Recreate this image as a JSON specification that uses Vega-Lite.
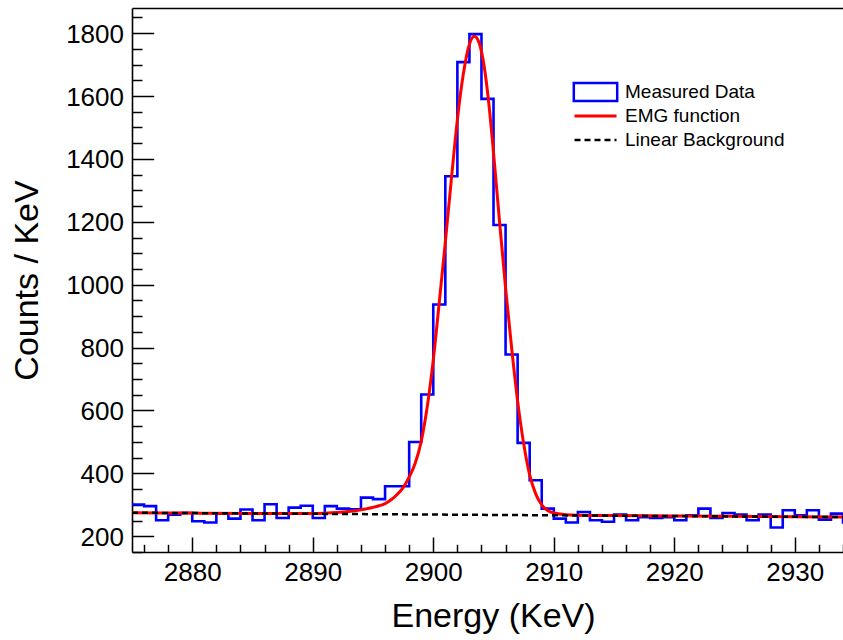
{
  "$schema": "https://vega.github.io/schema/vega-lite/v6.json",
  "width": 711,
  "height": 544,
  "autosize": {"type": "none"},
  "padding": {"left": 132, "top": 8, "right": 0, "bottom": 88},
  "background": "white",
  "config": {
    "view": {"stroke": null},
    "font": "Liberation Sans",
    "axis": {
      "grid": false,
      "labelFont": "Liberation Sans",
      "labelFontSize": 26,
      "labelFontWeight": "normal",
      "labelColor": "black",
      "titleFont": "Liberation Sans",
      "titleFontSize": 34,
      "titleFontWeight": "normal",
      "titleColor": "black",
      "tickColor": "black",
      "tickWidth": 1.5,
      "domainColor": "black",
      "domainWidth": 1.6
    }
  },
  "datasets": {
    "hist": [
      {"energy": 2875, "counts": 301}, {"energy": 2876, "counts": 296}, {"energy": 2877, "counts": 251},
      {"energy": 2878, "counts": 269}, {"energy": 2879, "counts": 274}, {"energy": 2880, "counts": 248},
      {"energy": 2881, "counts": 244}, {"energy": 2882, "counts": 272}, {"energy": 2883, "counts": 256},
      {"energy": 2884, "counts": 285}, {"energy": 2885, "counts": 251}, {"energy": 2886, "counts": 302},
      {"energy": 2887, "counts": 258}, {"energy": 2888, "counts": 291}, {"energy": 2889, "counts": 297},
      {"energy": 2890, "counts": 258}, {"energy": 2891, "counts": 296}, {"energy": 2892, "counts": 288},
      {"energy": 2893, "counts": 286}, {"energy": 2894, "counts": 323}, {"energy": 2895, "counts": 318},
      {"energy": 2896, "counts": 359}, {"energy": 2897, "counts": 359}, {"energy": 2898, "counts": 500},
      {"energy": 2899, "counts": 651}, {"energy": 2900, "counts": 937}, {"energy": 2901, "counts": 1345},
      {"energy": 2902, "counts": 1708}, {"energy": 2903, "counts": 1797}, {"energy": 2904, "counts": 1591},
      {"energy": 2905, "counts": 1190}, {"energy": 2906, "counts": 778}, {"energy": 2907, "counts": 497},
      {"energy": 2908, "counts": 378}, {"energy": 2909, "counts": 288}, {"energy": 2910, "counts": 256},
      {"energy": 2911, "counts": 244}, {"energy": 2912, "counts": 277}, {"energy": 2913, "counts": 251},
      {"energy": 2914, "counts": 246}, {"energy": 2915, "counts": 269}, {"energy": 2916, "counts": 251},
      {"energy": 2917, "counts": 261}, {"energy": 2918, "counts": 258}, {"energy": 2919, "counts": 261},
      {"energy": 2920, "counts": 251}, {"energy": 2921, "counts": 267}, {"energy": 2922, "counts": 288},
      {"energy": 2923, "counts": 258}, {"energy": 2924, "counts": 274}, {"energy": 2925, "counts": 269},
      {"energy": 2926, "counts": 251}, {"energy": 2927, "counts": 269}, {"energy": 2928, "counts": 228},
      {"energy": 2929, "counts": 283}, {"energy": 2930, "counts": 267}, {"energy": 2931, "counts": 283},
      {"energy": 2932, "counts": 253}, {"energy": 2933, "counts": 272}, {"energy": 2934, "counts": 244},
      {"energy": 2935, "counts": 244}
    ],
    "emg": [
      {"energy": 2875, "counts": 275}, {"energy": 2880, "counts": 273.8}, {"energy": 2885, "counts": 272.6},
      {"energy": 2888, "counts": 272.2}, {"energy": 2890, "counts": 272.6}, {"energy": 2891, "counts": 273.5},
      {"energy": 2892, "counts": 275.5}, {"energy": 2893, "counts": 279}, {"energy": 2894, "counts": 284},
      {"energy": 2894.5, "counts": 288}, {"energy": 2895, "counts": 292}, {"energy": 2895.5, "counts": 297},
      {"energy": 2896, "counts": 304}, {"energy": 2896.5, "counts": 316}, {"energy": 2897, "counts": 333},
      {"energy": 2897.5, "counts": 355}, {"energy": 2898, "counts": 388}, {"energy": 2898.5, "counts": 432},
      {"energy": 2899, "counts": 502}, {"energy": 2899.5, "counts": 612}, {"energy": 2900, "counts": 760},
      {"energy": 2900.5, "counts": 945}, {"energy": 2901, "counts": 1135}, {"energy": 2901.5, "counts": 1335},
      {"energy": 2902, "counts": 1525}, {"energy": 2902.5, "counts": 1672}, {"energy": 2903, "counts": 1765},
      {"energy": 2903.4, "counts": 1790}, {"energy": 2903.8, "counts": 1770}, {"energy": 2904.2, "counts": 1700},
      {"energy": 2904.6, "counts": 1580}, {"energy": 2905, "counts": 1420}, {"energy": 2905.5, "counts": 1200},
      {"energy": 2906, "counts": 990}, {"energy": 2906.5, "counts": 800}, {"energy": 2907, "counts": 630},
      {"energy": 2907.5, "counts": 495}, {"energy": 2908, "counts": 395}, {"energy": 2908.5, "counts": 335},
      {"energy": 2909, "counts": 300}, {"energy": 2909.5, "counts": 282}, {"energy": 2910, "counts": 274},
      {"energy": 2911, "counts": 268.5}, {"energy": 2912, "counts": 266.8}, {"energy": 2915, "counts": 265.7},
      {"energy": 2920, "counts": 264.6}, {"energy": 2925, "counts": 263.4}, {"energy": 2930, "counts": 262.2},
      {"energy": 2934, "counts": 261}
    ],
    "bkg": [
      {"energy": 2875, "counts": 275}, {"energy": 2934, "counts": 261}
    ]
  },
  "layer": [
    {
      "data": {"name": "hist"},
      "mark": {"type": "line", "interpolate": "step-after", "strokeWidth": 2.6, "clip": true},
      "encoding": {
        "x": {
          "field": "energy", "type": "quantitative",
          "scale": {"domain": [2875, 2934], "nice": false, "zero": false},
          "axis": {
            "orient": "bottom",
            "title": "Energy (KeV)",
            "values": [2880, 2890, 2900, 2910, 2920, 2930],
            "format": "d",
            "tickSize": -15,
            "labelPadding": 22.5,
            "labelBaseline": "top",
            "labelFlush": false,
            "titleBaseline": "alphabetic",
            "titleX": 361,
            "titleY": 74
          }
        },
        "y": {
          "field": "counts", "type": "quantitative",
          "scale": {"domain": [150, 1880], "nice": false, "zero": false},
          "axis": {
            "orient": "left",
            "title": "Counts / KeV",
            "values": [200, 400, 600, 800, 1000, 1200, 1400, 1600, 1800],
            "format": "d",
            "tickSize": -21.7,
            "labelPadding": 30.2,
            "labelOffset": 1,
            "labelFlush": false,
            "titleBaseline": "alphabetic",
            "titleX": -95
          }
        },
        "color": {
          "datum": "Measured Data", "type": "nominal",
          "scale": {
            "domain": ["Measured Data", "EMG function", "Linear Background"],
            "range": ["#0000ff", "#ff0000", "#000000"]
          },
          "legend": {
            "title": null,
            "orient": "none",
            "legendX": 454,
            "legendY": 74.5,
            "padding": 0,
            "gridAlign": "all",
            "symbolSize": 400,
            "symbolStrokeWidth": 2.5,
            "labelFont": "Liberation Sans",
            "labelFontSize": 19,
            "labelColor": "black",
            "labelOffset": 20,
            "rowPadding": 0,
            "encode": {
              "symbols": {
                "update": {
                  "shape": {"signal": "datum.value === 'Measured Data' ? 'M-2.17,-0.9H2.17V0.9H-2.17Z' : 'M-2.1,0H2.1'"},
                  "fill": {"value": "transparent"},
                  "strokeDash": {"signal": "datum.value === 'Linear Background' ? [6, 4] : [1, 0]"},
                  "strokeWidth": {"signal": "datum.value === 'EMG function' ? 2.8 : 2.5"}
                }
              }
            }
          }
        }
      }
    },
    {
      "data": {"name": "emg"},
      "mark": {"type": "line", "interpolate": "monotone", "strokeWidth": 3, "clip": true},
      "encoding": {
        "x": {
          "field": "energy", "type": "quantitative",
          "axis": {
            "orient": "bottom",
            "title": null,
            "labels": false,
            "domain": false,
            "values": [2876, 2878, 2882, 2884, 2886, 2888, 2892, 2894, 2896, 2898, 2902, 2904, 2906, 2908, 2912, 2914, 2916, 2918, 2922, 2924, 2926, 2928, 2932, 2934],
            "tickSize": -7.7
          }
        },
        "y": {
          "field": "counts", "type": "quantitative",
          "axis": {
            "orient": "left",
            "title": null,
            "labels": false,
            "domain": false,
            "values": [150, 250, 300, 350, 450, 500, 550, 650, 700, 750, 850, 900, 950, 1050, 1100, 1150, 1250, 1300, 1350, 1450, 1500, 1550, 1650, 1700, 1750, 1850],
            "tickSize": -10
          }
        },
        "color": {"datum": "EMG function", "type": "nominal"}
      }
    },
    {
      "data": {"name": "bkg"},
      "mark": {"type": "line", "strokeWidth": 2.5, "strokeDash": [6, 4], "clip": true},
      "encoding": {
        "x": {
          "field": "energy", "type": "quantitative",
          "axis": {
            "orient": "top",
            "title": null,
            "labels": false,
            "ticks": false,
            "domain": true
          }
        },
        "y": {"field": "counts", "type": "quantitative", "axis": null},
        "color": {"datum": "Linear Background", "type": "nominal"}
      }
    }
  ],
  "resolve": {"axis": {"x": "independent", "y": "independent"}}
}
